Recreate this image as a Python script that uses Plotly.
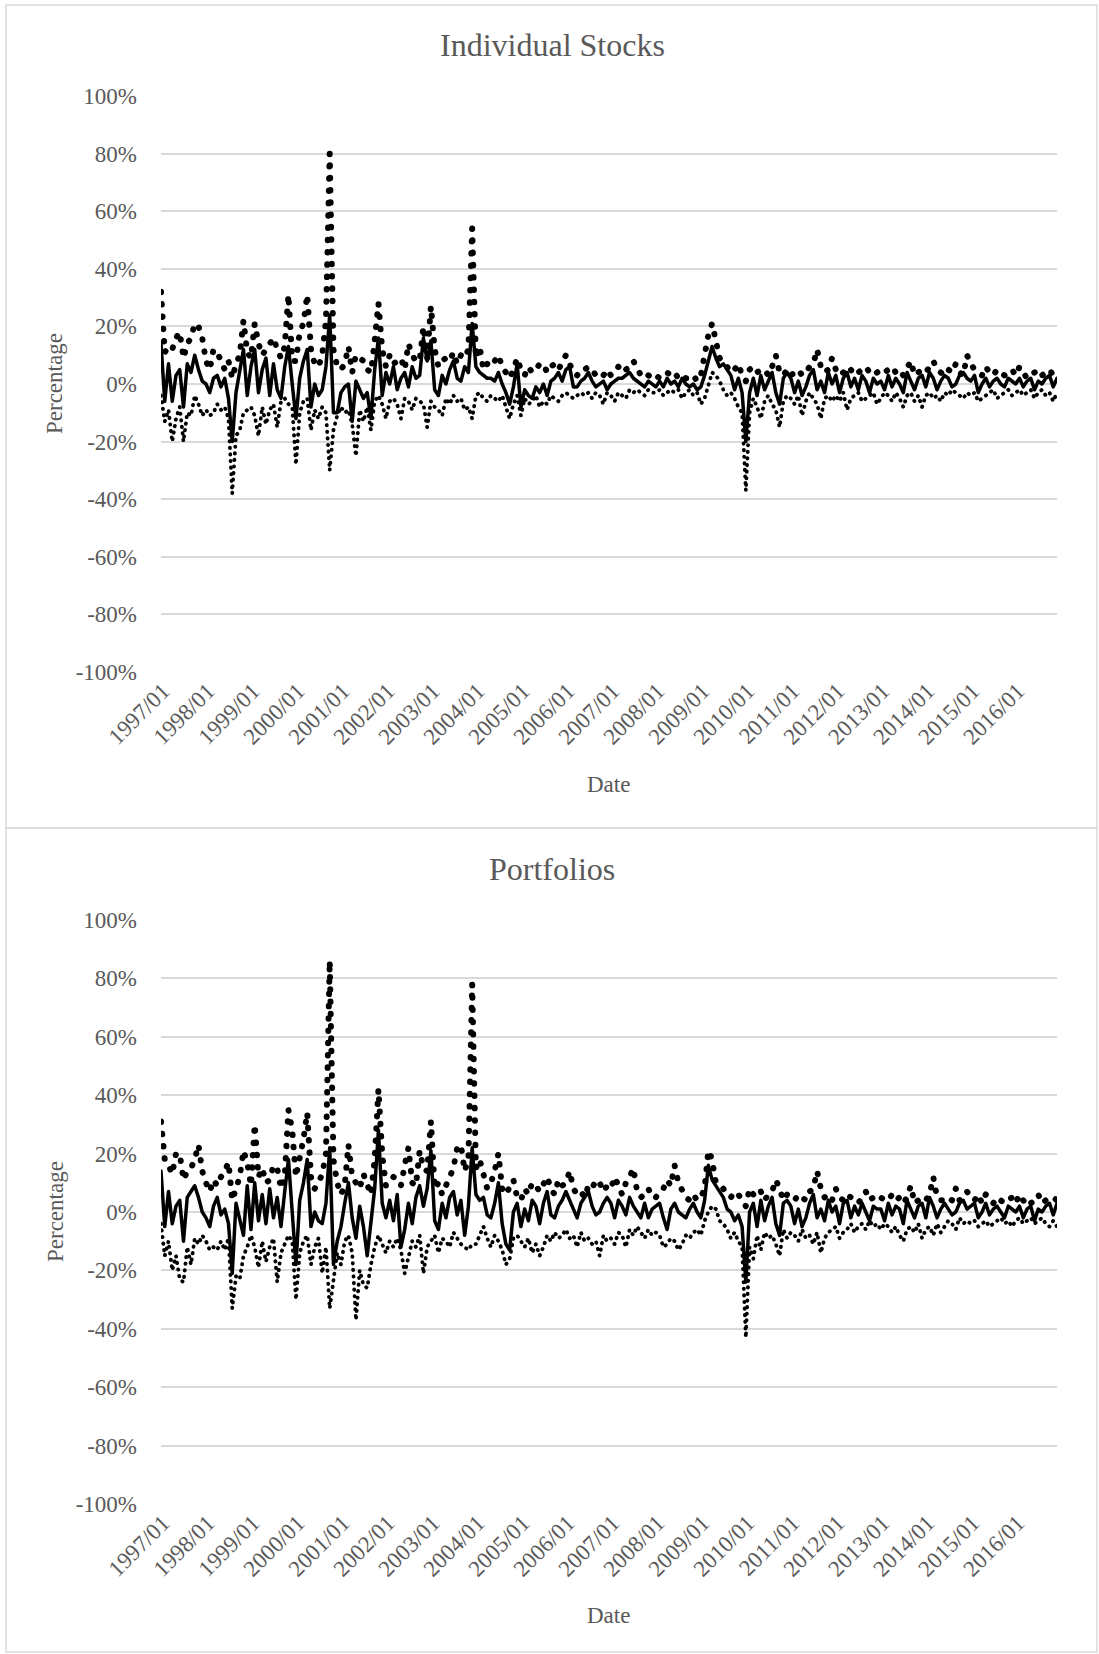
import plotly.graph_objects as go

# ---------------- data (monthly, 1997/01 - 2016/12, in %) ----------------
years = list(range(1997, 2017))
months = [f"{y}/{m:02d}" for y in years for m in range(1, 13)]
year_ticks = [f"{y}/01" for y in years]

stocks_mean = [
    14, -6, 7, -6, 3, 5, -8, 7, 4, 10, 5, 1,
    0, -3, 2, 3, -1, 2, -5, -20, -3, 4, 12, -4,
    6, 12, -3, 5, 9, -4, 7, -2, -5, 6, 13, 0,
    -12, 2, 8, 12, -8, 0, -4, -2, 6, 24, -10, -10,
    -3, -1, 0, -13, 1, -2, -5, -3, -12, 5, 16, -4,
    4, 0, 6, -2, 2, 4, -1, 6, 2, 3, 16, 8,
    15, -2, -4, 3, 0, 5, 8, 2, 1, 6, 4, 21,
    6, 4, 3, 2, 2, 1, 4, 0, -3, -7, -1, 7,
    -8, -2, -4, -5, -1, -3, 0, -4, 1, 2, 4, 1,
    5, 6, -1, -1, 1, 2, 4, 1, -1, 0, 1, -2,
    0, 1, 2, 2, 3, 4, 2, 1, 0, -1, 1, 0,
    -1, 1, -1, 2, 0, 1, -1, 2, 0, -1, 0, -2,
    -1, 3, 8, 13, 9, 6, 7, 5, 3, -2, 2, -3,
    -20, -3, 2, -4, 3, -2, 1, 4, -3, -7, 2, 4,
    2, -3, 1, -4, -1, 3, 5, -2, 1, -3, 4, 0,
    3, -3, 2, 4, -1, 2, -2, 3, 1, -3, 2, 0,
    1, -2, 3, -1, 2, 0, -3, 4, 1, -2, 2, 3,
    -1, 4, 2, -2, 1, 3, 2, -1, 0, 3, 4, 2,
    1, 3, -3, 0, 2, -1, 1, 2, 0, -1, 2, 1,
    0, 2, -1, 1, 2, -2, 1, 0, 2, 3, -1, 2,
]
stocks_high = [
    32, 11, 13, 12, 16, 18, 9, 14, 16, 21, 20, 16,
    8, 5, 12, 11, 8, 5, 8, 2, 7, 10, 22, 11,
    9, 21, 14, 10, 12, 14, 16, 12, 9, 13, 31, 8,
    8, 18, 21, 31, 12, 7, 6, 10, 22, 80, 12, 6,
    5, 7, 13, 4, 10, 9, 8, 5, 4, 15, 28, 12,
    6, 10, 7, 8, 9, 5, 14, 10, 8, 8, 20, 9,
    27, 12, 6, 8, 9, 8, 11, 7, 10, 9, 12, 54,
    9, 13, 5, 7, 6, 8, 10, 6, 4, 2, 5, 9,
    5, 3, 6, 4, 5, 7, 7, 4, 6, 7, 5, 8,
    10, 7, 4, 3, 5, 5, 6, 5, 3, 4, 3, 5,
    3, 4, 6, 4, 5, 6, 8, 5, 3, 2, 3, 2,
    3, 2, 3, 4, 3, 4, 2, 3, 2, 2, 3, 1,
    3, 10, 17, 21, 15, 9, 8, 6, 4, 5, 7, 3,
    1, 5, 6, 4, 5, 5, 3, 6, 10, 4, 3, 5,
    3, 4, 5, 3, 4, 6, 7, 12, 6, 4, 5, 9,
    5, 3, 4, 6, 5, 3, 4, 5, 6, 4, 3, 4,
    5, 4, 5, 6, 4, 5, 3, 6, 8, 3, 4, 5,
    4, 6, 8, 5, 4, 3, 5, 4, 7, 4, 3, 10,
    7, 5, 4, 3, 6, 4, 3, 5, 4, 3, 4, 5,
    3, 6, 4, 2, 3, 4, 5, 3, 4, 5, 3, 3,
]
stocks_low = [
    -4, -13, -9, -20, -12, -8, -20, -10, -11, -4, -7, -11,
    -9, -11, -10, -7, -9, -8, -12, -38, -18, -16, -10, -9,
    -8, -11, -18, -8, -14, -9, -7, -15, -6, -5, -7, -8,
    -28, -10, -6, -5, -16, -9, -12, -8, -10, -30, -16, -11,
    -8, -10, -9, -14, -25, -9, -13, -8, -16, -6, -4, -7,
    -12, -6, -5, -7, -12, -5, -6, -9, -5, -6, -7, -15,
    -6, -8, -9, -11, -5, -7, -4, -6, -5, -9, -8, -12,
    -4, -3, -5, -6, -4, -5, -6, -4, -8, -12, -7, -4,
    -11, -5, -7, -6, -4, -8, -6, -7, -4, -5, -6, -4,
    -3, -4, -5, -4, -3, -4, -3, -5, -3, -4, -7, -3,
    -4, -6, -3, -4, -5, -2, -3, -2, -3, -4, -2, -3,
    -3, -2, -4, -3, -2, -3, -2, -5, -3, -2, -4, -3,
    -7, -5, 0, 4, 3, 1, -2, -4, -3, -5, -8, -10,
    -37, -10, -5, -8, -12, -6, -4, -7, -9, -15, -6, -4,
    -5, -7, -4, -11, -6, -3, -5, -7, -12, -5, -4, -6,
    -4, -6, -3, -9, -5, -4, -3, -6, -5, -4, -3, -7,
    -5, -3, -4, -6, -3, -5, -8, -4, -3, -6, -4, -8,
    -4, -3, -5, -4, -6, -3, -4, -2, -3, -4, -5, -3,
    -4, -3, -6, -5, -4, -3, -2, -5, -4, -3, -2, -4,
    -3, -2, -4, -3, -2, -5, -3, -2, -4, -3, -6, -3,
]

port_mean = [
    14, -5, 7, -4, 2, 4, -10, 5, 7, 9, 5, 0,
    -2, -5, 2, 5, -1, 1, -4, -21, 3, -3, -8, 9,
    -6, 10, -3, 6, -4, 8, -2, 5, -5, 7, 18, 0,
    -18, 4, 10, 18, -5, 0, -3, -4, 3, 22, -18, -10,
    -5, 3, 10, -2, -9, 2, -5, -15, -4, 8, 28, 3,
    -2, 4, -3, 6, -12, -6, 3, -4, 5, 9, 2, 8,
    21, -3, -6, 3, -2, 5, 7, -1, 4, -8, 2, 22,
    6, 4, 5, -1, -2, 3, 10, -4, -11, -13, 0, 3,
    -5, 1, -3, 4, 2, -4, 3, 7, -1, -2, 2, 4,
    7, 4, 1, -2, 3, 5, 7, 2, -1, 0, 3, 5,
    3, -2, 4, 2, -1, 5, 2, 0, -2, 3, -2, 1,
    2, 3, -2, -6, 1, 3, 0, -1, -2, 1, 3, 0,
    -2, 4, 16, 11, 9, 7, 5, 1, 0, -3, -1, -5,
    -24, 0, 3, -5, 4, -3, 2, 5, -4, -8, 3, 4,
    2, -4, 1, -5, -2, 3, 6, -2, 1, -3, 4, 0,
    2, -4, 3, 4, -2, 2, -1, 3, 0, -3, 2, 1,
    1, -3, 3, -1, 2, 1, -4, 4, 1, -2, 2, 3,
    -2, 5, 2, -2, 1, 3, 1, -1, 0, 3, 4, 1,
    2, 3, -2, 0, 3, -1, 1, 2, 0, -2, 2, 1,
    0, 2, -2, 1, 2, -3, 1, 0, 2, 3, -1, 3,
]
port_high = [
    31, 18, 16, 13, 20, 20, 11, 14, 15, 18, 23, 14,
    10, 7, 11, 9, 12, 14, 17, 4, 8, 12, 21, 17,
    9, 30, 12, 15, 10, 11, 16, 15, 8, 12, 35, 28,
    12, 18, 25, 34, 12, 8, 10, 13, 20, 86, 18, 10,
    6, 9, 23, 12, 10, 8, 13, 9, 6, 18, 42, 20,
    9, 10, 12, 11, 9, 16, 22, 10, 9, 21, 15, 14,
    31, 8, 10, 6, 9, 12, 15, 22, 23, 14, 18, 78,
    15, 18, 13, 8, 10, 14, 20, 8, 6, 9, 11, 5,
    4, 8, 6, 10, 9, 7, 10, 12, 8, 6, 11, 9,
    10, 14, 8, 6, 7, 5, 9, 8, 11, 10, 7, 9,
    8, 12, 9, 6, 10, 12, 15, 7, 5, 6, 8, 5,
    5, 7, 8, 11, 9, 16, 10, 7, 5, 4, 6, 4,
    5, 8, 21, 18, 10, 9, 8, 6, 5, 7, 6, 4,
    2, 8, 6, 5, 7, 4, 6, 7, 11, 8, 4, 6,
    5, 4, 6, 5, 4, 7, 8, 14, 8, 5, 6, 4,
    8, 5, 4, 6, 5, 4, 3, 5, 7, 4, 5, 4,
    5, 4, 4, 6, 4, 5, 3, 5, 9, 3, 4, 5,
    4, 6, 12, 5, 4, 4, 5, 4, 8, 4, 5, 7,
    5, 4, 6, 3, 6, 4, 3, 5, 4, 3, 4, 5,
    3, 6, 4, 2, 3, 4, 6, 3, 4, 5, 5, 4,
]
port_low = [
    -4, -15, -10, -20, -15, -23, -24, -12, -18, -9, -11, -8,
    -10, -13, -12, -13, -10, -13, -9, -33, -22, -23, -15, -12,
    -8, -12, -19, -10, -17, -12, -9, -24, -14, -11, -8, -10,
    -30, -14, -10, -8, -18, -12, -9, -21, -12, -33, -24, -14,
    -18, -10, -8, -14, -37, -20, -25, -26, -18, -12, -8, -11,
    -14, -10, -12, -9, -13, -21, -16, -10, -12, -8, -21, -12,
    -10, -8, -14, -9, -10, -12, -7, -9, -11, -12, -13, -11,
    -11, -8, -5, -9, -12, -8, -10, -13, -18, -16, -9, -8,
    -10, -12, -9, -14, -11, -15, -12, -8, -10, -7, -9, -8,
    -6, -9, -8, -12, -7, -10, -9, -11, -10, -15, -8, -10,
    -9, -11, -7, -8, -12, -6, -8, -5, -7, -9, -6, -8,
    -7, -8, -12, -11, -9, -10, -13, -11, -8, -9, -7, -6,
    -8, -3, 0, 2, 1, -3, -4, -6, -9, -7, -10, -12,
    -43, -12, -16, -8, -13, -7, -9, -8, -11, -15, -6, -9,
    -7, -8, -10, -6, -9, -8, -11, -7, -14, -9, -7, -6,
    -5, -9, -7, -6, -4, -7, -5, -4, -6, -3, -5, -4,
    -6, -4, -5, -7, -5, -8, -10, -6, -5, -7, -4, -9,
    -6, -5, -8, -4, -7, -5, -3, -4, -6, -2, -4, -3,
    -4, -3, -5, -4, -3, -5, -4, -3, -2, -4, -3, -5,
    -3, -2, -4, -3, -2, -4, -3, -2, -4, -5, -3, -5,
]

y_tick_vals = [-100, -80, -60, -40, -20, 0, 20, 40, 60, 80, 100]
y_tick_text = ["-100%", "-80%", "-60%", "-40%", "-20%", "0%",
               "20%", "40%", "60%", "80%", "100%"]

panels = [
    ("Individual Stocks", stocks_mean, stocks_high, stocks_low),
    ("Portfolios", port_mean, port_high, port_low),
]

# ---------------- layout helpers ----------------
W, H = 1099, 1654
FONT = "Liberation Serif, Times New Roman, serif"
GREY_TXT = "#595959"
GRID = "#d9d9d9"


def px_x(x):
    return x / W


def px_y(y):
    return 1 - y / H


plot_boxes = [(96, 672), (920, 1504)]
x_left, x_right = 161, 1057
title_y = [45, 869]
date_y = [785, 1615]
chart_boxes = [(5, 828), (828, 1652)]

fig = go.Figure()

for k, (name, mean, high, low) in enumerate(panels):
    assert len(mean) == len(high) == len(low) == len(months) == 240
    xa = "x" if k == 0 else "x2"
    ya = "y" if k == 0 else "y2"
    # lower bound: small round dots
    fig.add_trace(go.Scatter(x=months, y=low, xaxis=xa, yaxis=ya, mode="lines",
                             line=dict(color="black", width=3.8, dash="0.4px,6.2px"),
                             showlegend=False, hoverinfo="skip"))
    # upper bound: large round dots
    fig.add_trace(go.Scatter(x=months, y=high, xaxis=xa, yaxis=ya, mode="lines",
                             line=dict(color="black", width=6, dash="0.5px,11.8px"),
                             showlegend=False, hoverinfo="skip"))
    # mean: solid
    fig.add_trace(go.Scatter(x=months, y=mean, xaxis=xa, yaxis=ya, mode="lines",
                             line=dict(color="black", width=3.5),
                             showlegend=False, hoverinfo="skip"))

axis_common_x = dict(
    type="category", range=[0, len(months) - 1], domain=[px_x(x_left), px_x(x_right)],
    tickmode="array", tickvals=year_ticks, ticktext=year_ticks, tickangle=-45,
    showgrid=False, zeroline=False, showline=False, ticks="", automargin=False,
    tickfont=dict(family=FONT, size=23, color=GREY_TXT), ticklabelstandoff=0,
    ticklabelshift=2,
)
axis_common_y = dict(
    range=[-100, 100], tickmode="array", tickvals=y_tick_vals, ticktext=y_tick_text,
    showgrid=True, gridcolor=GRID, gridwidth=1.5, zeroline=False, showline=False,
    ticks="", tickfont=dict(family=FONT, size=23, color=GREY_TXT),
    ticklabelstandoff=23, automargin=False,
)

fig.update_layout(
    xaxis=dict(axis_common_x, anchor="y"),
    xaxis2=dict(axis_common_x, anchor="y2"),
    yaxis=dict(axis_common_y, anchor="x",
               domain=[px_y(plot_boxes[0][1]), px_y(plot_boxes[0][0])]),
    yaxis2=dict(axis_common_y, anchor="x2",
                domain=[px_y(plot_boxes[1][1]), px_y(plot_boxes[1][0])]),
)

annotations = []
shapes = []
for k, (name, _, _, _) in enumerate(panels):
    top, bot = plot_boxes[k]
    annotations.append(dict(text=name, x=px_x(552), y=px_y(title_y[k]), xref="paper",
                            yref="paper", showarrow=False, xanchor="center", yanchor="middle",
                            font=dict(family=FONT, size=32, color=GREY_TXT)))
    annotations.append(dict(text="Date", x=px_x(608), y=px_y(date_y[k]), xref="paper",
                            yref="paper", showarrow=False, xanchor="center", yanchor="middle",
                            font=dict(family=FONT, size=23, color=GREY_TXT)))
    annotations.append(dict(text="Percentage", x=px_x(55), y=px_y((top + bot) / 2),
                            xref="paper", yref="paper", showarrow=False, textangle=-90,
                            xanchor="center", yanchor="middle",
                            font=dict(family=FONT, size=23, color=GREY_TXT)))
    y0, y1 = chart_boxes[k]
    shapes.append(dict(type="rect", xref="paper", yref="paper",
                       x0=px_x(6), x1=px_x(1097), y0=px_y(y1), y1=px_y(y0),
                       line=dict(color=GRID, width=1.5), fillcolor="rgba(0,0,0,0)",
                       layer="below"))

fig.update_layout(
    width=W, height=H, margin=dict(l=0, r=0, t=0, b=0, autoexpand=False),
    paper_bgcolor="white", plot_bgcolor="white",
    annotations=annotations, shapes=shapes, showlegend=False,
)

# page without body margin; round line caps so the dotted series render as
# round dots (Excel "round dot" style)
post = (
    "document.body.style.margin='0';"
    "document.documentElement.style.overflow='hidden';"
    "var gd = document.getElementById('{plot_id}');"
    "gd.querySelectorAll('.scatterlayer .js-line').forEach(function(p){"
    "p.style.strokeLinecap='round'; p.style.strokeLinejoin='round';});"
)

fig.write_html("out.html", post_script=post, config={"displayModeBar": False})
